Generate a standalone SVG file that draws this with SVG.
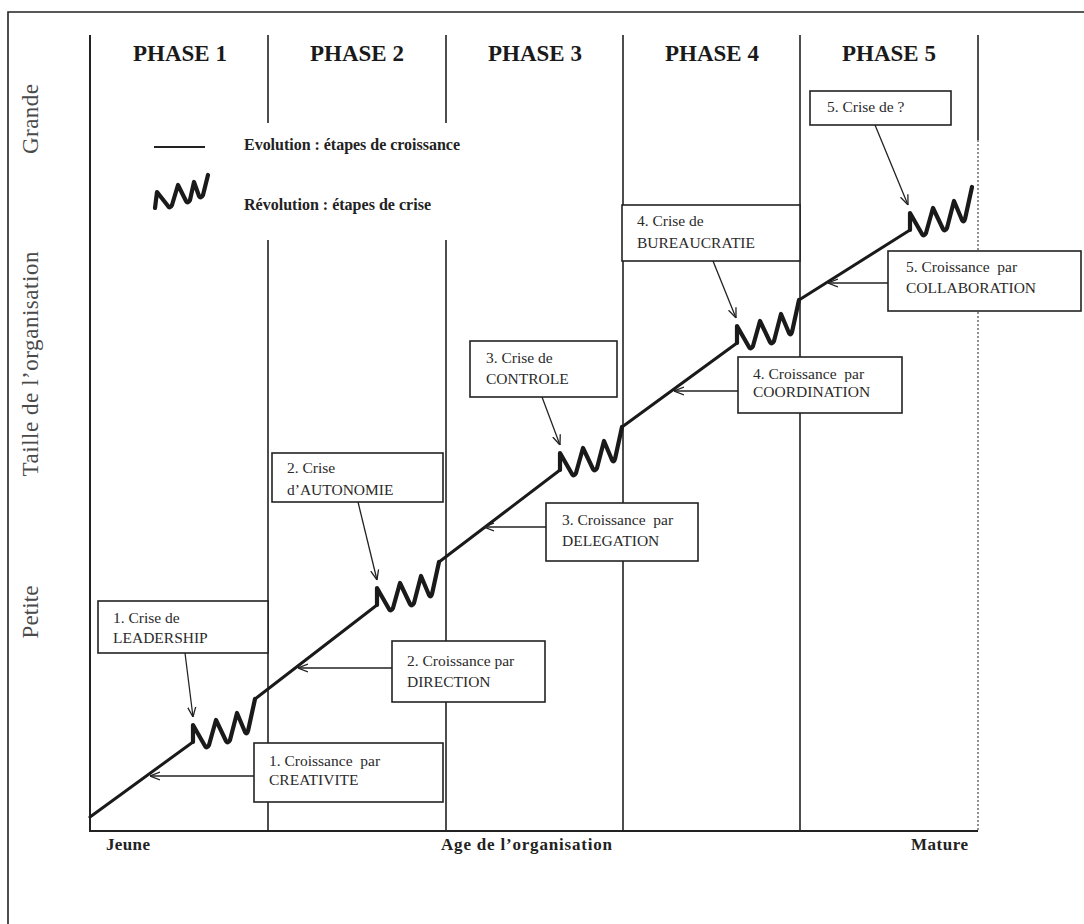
<svg xmlns="http://www.w3.org/2000/svg" xmlns:xlink="http://www.w3.org/1999/xlink" width="1084" height="924" viewBox="0 0 1084 924">
<style>
.frame{fill:none;stroke:#222;stroke-width:1.6}
.grid{fill:none;stroke:#222;stroke-width:1.6}
.axis{fill:none;stroke:#222;stroke-width:2}
.dotted{fill:none;stroke:#555;stroke-width:1.3;stroke-dasharray:2 2}
.box{fill:#fff;stroke:#222;stroke-width:1.6}
.txt{font-family:"Liberation Serif","Times New Roman",serif;font-size:15.5px;fill:#2a2a2a}
.hdr{font-family:"Liberation Serif","Times New Roman",serif;font-size:23px;font-weight:bold;fill:#1a1a1a;text-anchor:middle}
.leg{font-family:"Liberation Serif","Times New Roman",serif;font-size:16px;font-weight:bold;fill:#222}
.ax{font-family:"Liberation Serif","Times New Roman",serif;font-size:17px;font-weight:bold;fill:#222}
.yl{font-family:"Liberation Serif","Times New Roman",serif;font-size:23px;fill:#4a4a4a;text-anchor:middle}
.main{fill:none;stroke:#1a1a1a;stroke-width:3;stroke-linecap:round}
.wave{fill:none;stroke:#1a1a1a;stroke-width:4.2;stroke-linejoin:round;stroke-linecap:round}
.arr{fill:none;stroke:#222;stroke-width:1.3;marker-end:url(#head)}
</style>
<defs>
<marker id="head" viewBox="0 0 10 10" refX="10" refY="5" markerWidth="10" markerHeight="10" markerUnits="userSpaceOnUse" orient="auto">
<path d="M0,1 L10,5 L0,9" fill="none" stroke="#222" stroke-width="1.3"/>
</marker>
<path id="wv" class="wave" d="M0,0 L0,-17 L12,4 Q14,7 16,3 L23,-22 L33,-1 Q35,2 37,-2 L44,-29 L52,-10 Q54,-7 55,-11 L62,-43"/>
</defs>
<rect width="1084" height="924" fill="#fff"/>
<path class="frame" d="M8,930 L8,12 L1090,12"/>

<g id="grid">
<path class="axis" d="M90,35 V831 H978"/>
<path class="grid" d="M268,35 V123 M268,240 V831 M446,35 V123 M446,240 V831 M623,35 V831 M800,35 V831"/>
<path class="grid" d="M978,35 V140" stroke="#444"/>
<path class="dotted" d="M978,140 V831"/>
</g>

<g id="headers">
<text class="hdr" x="180" y="61">PHASE 1</text>
<text class="hdr" x="357" y="61">PHASE 2</text>
<text class="hdr" x="535" y="61">PHASE 3</text>
<text class="hdr" x="712" y="61">PHASE 4</text>
<text class="hdr" x="889" y="61">PHASE 5</text>
</g>

<g id="axis-labels">
<text class="yl" transform="translate(38,119) rotate(-90)" textLength="70">Grande</text>
<text class="yl" transform="translate(38,364) rotate(-90)" textLength="225">Taille de l’organisation</text>
<text class="yl" transform="translate(38,612) rotate(-90)" textLength="53">Petite</text>
<text class="ax" x="106" y="850" textLength="44">Jeune</text>
<text class="ax" x="441" y="850" textLength="171">Age de l’organisation</text>
<text class="ax" x="911" y="850" textLength="57">Mature</text>
</g>

<g id="legend">
<line x1="154" y1="147" x2="205" y2="147" stroke="#222" stroke-width="2"/>
<path class="wave" d="M155,208 L157,192 L168,206 Q170,209 172,205 L178,185 L186,201 Q188,204 190,200 L194,182 L199,196 Q201,199 203,195 L208,175" stroke-width="4.2"/>
<text class="leg" x="244" y="150" textLength="216">Evolution : étapes de croissance</text>
<text class="leg" x="244" y="210" textLength="187">Révolution : étapes de crise</text>
</g>

<g id="node-crise1">
<rect class="box" x="98" y="601" width="170" height="52"/>
<text class="txt" x="113" y="623">1. Crise de</text>
<text class="txt" x="113" y="643">LEADERSHIP</text>
</g>
<g id="node-croissance1">
<rect class="box" x="254" y="743" width="189" height="59"/>
<text class="txt" x="269" y="766">1. Croissance&#160; par</text>
<text class="txt" x="269" y="785">CREATIVITE</text>
</g>
<g id="node-croissance2">
<rect class="box" x="392" y="641" width="153" height="61"/>
<text class="txt" x="407" y="666">2. Croissance par</text>
<text class="txt" x="407" y="687">DIRECTION</text>
</g>
<g id="node-crise2">
<rect class="box" x="272" y="453" width="171" height="49"/>
<text class="txt" x="287" y="473">2. Crise</text>
<text class="txt" x="287" y="495">d’AUTONOMIE</text>
</g>
<g id="node-crise3">
<rect class="box" x="470" y="341" width="147" height="56"/>
<text class="txt" x="486" y="363">3. Crise de</text>
<text class="txt" x="486" y="384">CONTROLE</text>
</g>
<g id="node-croissance3">
<rect class="box" x="546" y="503" width="152" height="58"/>
<text class="txt" x="562" y="525">3. Croissance&#160; par</text>
<text class="txt" x="562" y="546">DELEGATION</text>
</g>
<g id="node-croissance4">
<rect class="box" x="738" y="357" width="164" height="56"/>
<text class="txt" x="753" y="379">4. Croissance&#160; par</text>
<text class="txt" x="753" y="397">COORDINATION</text>
</g>
<g id="node-crise4">
<rect class="box" x="622" y="205" width="178" height="56"/>
<text class="txt" x="637" y="226">4. Crise de</text>
<text class="txt" x="637" y="248">BUREAUCRATIE</text>
</g>
<g id="node-crise5">
<rect class="box" x="810" y="91" width="141" height="34"/>
<text class="txt" x="827" y="112">5. Crise de ?</text>
</g>
<g id="node-croissance5">
<rect class="box" x="888" y="251" width="193" height="60"/>
<text class="txt" x="906" y="272">5. Croissance&#160; par</text>
<text class="txt" x="906" y="293">COLLABORATION</text>
</g>

<g id="connectors">
<path class="main" d="M90,817 L193,742"/>
<use xlink:href="#wv" href="#wv" x="193" y="742"/>
<path class="main" d="M255,699 L377,605"/>
<use xlink:href="#wv" href="#wv" x="377" y="605"/>
<path class="main" d="M439,562 L560,470"/>
<use xlink:href="#wv" href="#wv" x="560" y="470"/>
<path class="main" d="M622,427 L737,343"/>
<use xlink:href="#wv" href="#wv" x="737" y="343"/>
<path class="main" d="M799,300 L910,230"/>
<use xlink:href="#wv" href="#wv" x="910" y="230"/>

<line class="arr" x1="185" y1="653" x2="193" y2="717"/>
<line class="arr" x1="358" y1="502" x2="377" y2="580"/>
<line class="arr" x1="542" y1="397" x2="560" y2="445"/>
<line class="arr" x1="713" y1="261" x2="736" y2="318"/>
<line class="arr" x1="875" y1="125" x2="908" y2="205"/>

<line class="arr" x1="254" y1="776" x2="150" y2="776"/>
<line class="arr" x1="392" y1="668" x2="298" y2="668"/>
<line class="arr" x1="546" y1="527" x2="484" y2="527"/>
<line class="arr" x1="738" y1="391" x2="674" y2="391"/>
<line class="arr" x1="888" y1="283" x2="828" y2="283"/>
</g>
</svg>
